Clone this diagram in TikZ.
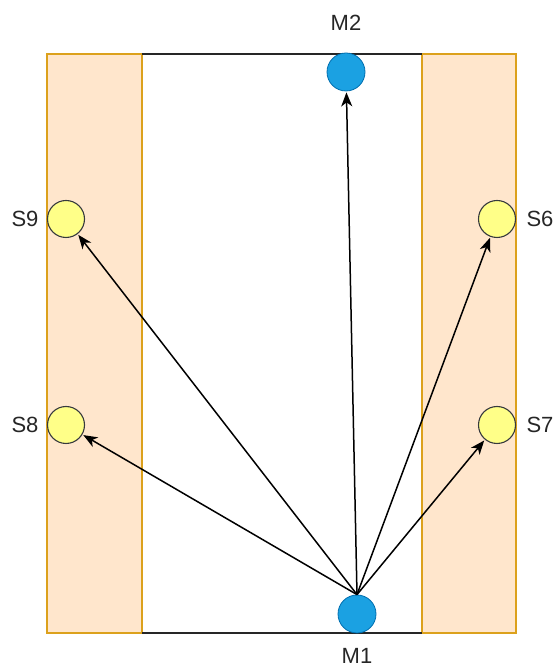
\documentclass[tikz,border=0pt]{standalone}
\usepackage{fontspec}
\setmainfont{Liberation Sans}
\usetikzlibrary{positioning, arrows.meta}

\definecolor{zonefill}{HTML}{FFE6CC}
\definecolor{zoneline}{HTML}{DCA11C}
\definecolor{masterfill}{HTML}{1BA1E2}
\definecolor{masterline}{HTML}{006EAF}
\definecolor{slavefill}{HTML}{FFFF88}
\definecolor{slaveline}{HTML}{36393D}

\begin{document}
\begin{tikzpicture}[x=1pt, y=1pt, on grid,
    zone/.style={fill=zonefill, draw=zoneline, line width=1.5pt},
    master/.style={circle, fill=masterfill, draw=masterline, line width=0.8pt, minimum size=38pt, inner sep=0pt},
    slave/.style={circle, fill=slavefill, draw=slaveline, line width=1.1pt, minimum size=37pt, inner sep=0pt},
    tag/.style={text=black!85, font=\fontsize{22}{26}\selectfont},
    link/.style={draw, -{Stealth[length=14pt, width=11pt, inset=4pt]}, line width=1.5pt, shorten >=1pt}]
    \useasboundingbox (0,0) rectangle (555,669);

    % side zones and the hall between them
    \draw[zone] (47,36) rectangle (142,615);
    \draw[zone] (422,36) rectangle (516,615);
    \draw[black!85, line width=1.8pt] (142,615) -- (422,615);
    \draw[black!85, line width=1.8pt] (142,36) -- (422,36);

    \node[master] (m1) at (357,55) {};
    \node[master] (m2) at (346,597) {};
    \node[slave] (s9) at (66,450) {};
    \node[slave] (s8) at (66,244) {};
    \node[slave] (s6) at (497,450) {};
    \node[slave] (s7) at (497,244) {};

    \node[tag] (m1lbl) [below=42pt of m1] {M1};
    \node[tag] (m2lbl) [above=49pt of m2] {M2};
    \node[tag] (s9lbl) [left=41pt of s9] {S9};
    \node[tag] (s8lbl) [left=41pt of s8] {S8};
    \node[tag] (s6lbl) [right=43pt of s6] {S6};
    \node[tag] (s7lbl) [right=43pt of s7] {S7};

    \foreach \dst in {m2, s9, s8, s6, s7}
        \path[link] (m1.north) -- (\dst);
\end{tikzpicture}
\end{document}
